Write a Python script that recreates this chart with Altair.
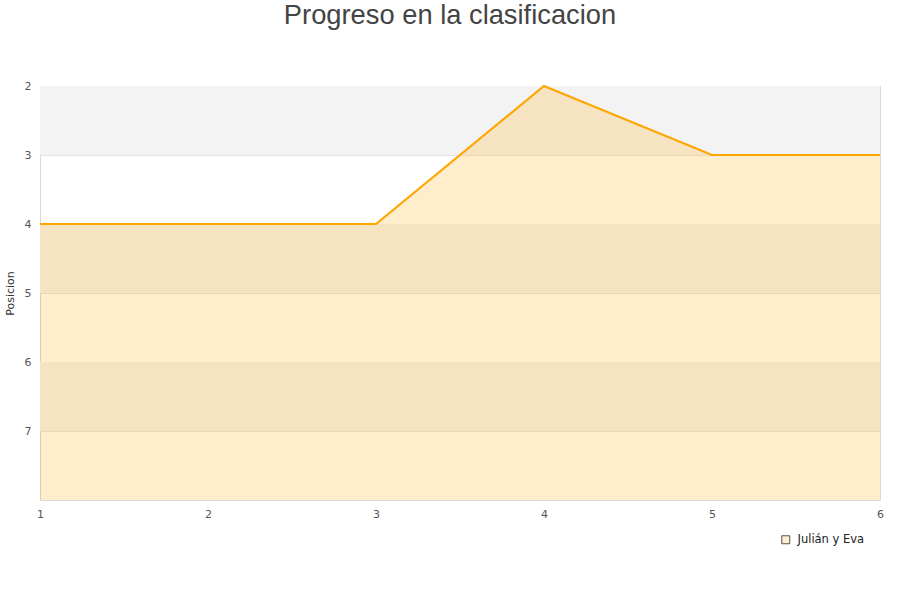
import altair as alt
import pandas as pd

# Ranking progress per round (lower number = better position)
jornadas = [1, 2, 3, 4, 5, 6]
posiciones = [4, 4, 4, 2, 3, 3]
equipo = "Julián y Eva"

# Alternating horizontal bands behind the plot
banda_inicio = [2, 4, 6]
banda_fin = [3, 5, 7]

df = pd.DataFrame({"jornada": jornadas, "posicion": posiciones, "equipo": equipo})
bandas = pd.DataFrame({"y0": banda_inicio, "y1": banda_fin})
leyenda = pd.DataFrame({"jornada": [1], "posicion": [4], "equipo": [equipo]})

x_scale = alt.Scale(domain=[1, 6], nice=False)
y_scale = alt.Scale(domain=[2, 8], reverse=True, nice=False, zero=False)

x_axis = alt.Axis(values=jornadas, format="d", ticks=False, domain=False, grid=False,
                  labelFlush=False, labelPadding=8, labelFontSize=11, labelColor="#555",
                  labelFont="DejaVu Sans", title=None)
y_axis = alt.Axis(values=[2, 3, 4, 5, 6, 7], format="d", ticks=False, domain=False, grid=True,
                  gridColor="#d9d9d9", gridOpacity=0.7, labelPadding=9, labelFontSize=11,
                  labelColor="#555", labelFont="DejaVu Sans", title="Posicion",
                  titleFontSize=11, titleFontWeight="normal", titleColor="#333",
                  titleFont="DejaVu Sans", titlePadding=9)

band_layer = alt.Chart(bandas).mark_rect(color="#f3f3f3").encode(
    y=alt.Y("y0:Q", scale=y_scale, axis=y_axis),
    y2="y1:Q",
)

area_layer = alt.Chart(df).mark_area(color="#FFA500", opacity=0.2).encode(
    x=alt.X("jornada:Q", scale=x_scale, axis=x_axis),
    y=alt.Y("posicion:Q", scale=y_scale),
    y2=alt.Y2Datum(8),
)

line_layer = alt.Chart(df).mark_line(color="#FFA500", strokeWidth=2.2).encode(
    x=alt.X("jornada:Q", scale=x_scale),
    y=alt.Y("posicion:Q", scale=y_scale),
)

legend_layer = alt.Chart(leyenda).mark_square(size=0, opacity=1).encode(
    x=alt.X("jornada:Q", scale=x_scale),
    y=alt.Y("posicion:Q", scale=y_scale),
    fill=alt.Fill("equipo:N",
                  scale=alt.Scale(domain=[equipo], range=["#FFEDCC"]),
                  legend=alt.Legend(title=None, orient="none", legendX=740, legendY=448,
                                    symbolType="square", symbolSize=64,
                                    symbolStrokeColor="#555", symbolStrokeWidth=1,
                                    symbolOpacity=1, labelFontSize=11.5, labelOffset=6,
                                    labelFont="DejaVu Sans", labelColor="#222")),
)

chart = alt.layer(band_layer, area_layer, line_layer, legend_layer).properties(
    width=840,
    height=414,
    autosize=alt.AutoSizeParams(type="none"),
    padding={"left": 40, "top": 86, "right": 20, "bottom": 100},
    title=alt.TitleParams("Progreso en la clasificacion", fontSize=27.3, font="Liberation Sans",
                          fontWeight="normal", color="#444", anchor="middle", frame="group",
                          dx=-10, offset=51),
).configure_view(stroke="#d9d9d9", strokeWidth=1)

chart.save("out.html", embed_options={"renderer": "svg", "actions": False})
